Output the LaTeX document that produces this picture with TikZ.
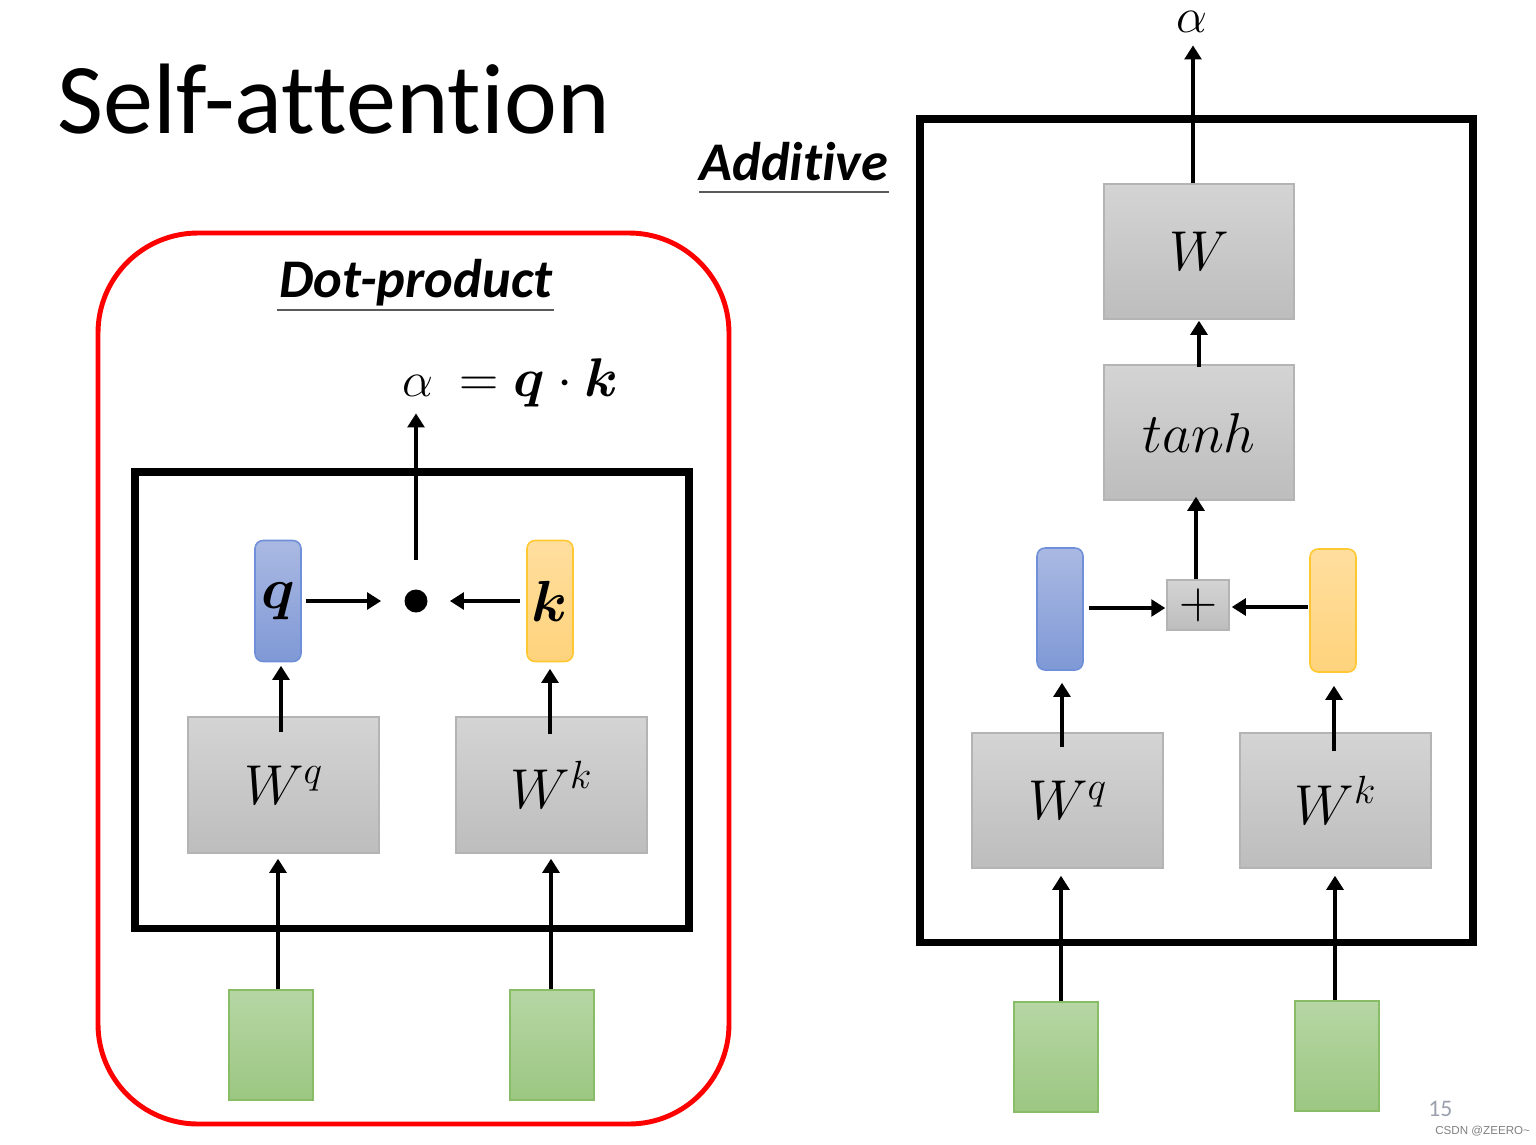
\documentclass[tikz,border=0pt]{standalone}
\usepackage{fix-cm}
\usepackage{amsmath}
\usepackage{fontspec}
\setmainfont{Carlito}[Ligatures=NoCommon]
\newfontfamily\smallsans{Liberation Sans}
\usetikzlibrary{arrows.meta,calc}
\definecolor{graytop}{HTML}{D4D4D4}
\definecolor{graybot}{HTML}{BDBDBD}
\definecolor{grayedge}{HTML}{B4B4B4}
\definecolor{qtop}{HTML}{AAB9E2}
\definecolor{qbot}{HTML}{7F99D6}
\definecolor{qedge}{HTML}{6F90D8}
\definecolor{ktop}{HTML}{FFDE9E}
\definecolor{kbot}{HTML}{FFD37C}
\definecolor{kedge}{HTML}{FFC833}
\definecolor{gtop}{HTML}{B6D6A4}
\definecolor{gbot}{HTML}{9CC782}
\definecolor{gedge}{HTML}{88BC66}
\definecolor{ulcol}{HTML}{5A5A5A}
\definecolor{pagenum}{HTML}{9AA0AC}
\begin{document}
\begin{tikzpicture}[x=0.02cm,y=-0.02cm,
  gbox/.style={draw=grayedge, line width=0.8pt, top color=graytop, bottom color=graybot,
    minimum width=3.82cm, minimum height=2.72cm, inner sep=0pt, font=\fontsize{32}{36}\selectfont},
  qvec/.style={draw=qedge, line width=0.9pt, rounded corners=0.16cm, top color=qtop, bottom color=qbot,
    minimum width=0.92cm, minimum height=2.42cm, inner sep=0pt, font=\fontsize{33}{38}\selectfont},
  kvec/.style={draw=kedge, line width=0.9pt, rounded corners=0.16cm, top color=ktop, bottom color=kbot,
    minimum width=0.92cm, minimum height=2.42cm, inner sep=0pt, font=\fontsize{33}{38}\selectfont},
  inp/.style={draw=gedge, line width=1pt, top color=gtop, bottom color=gbot,
    minimum width=1.68cm, minimum height=2.2cm, inner sep=0pt},
  arr/.style={line width=2.7pt, -{Triangle[width=9.5pt,length=8pt]}},
  frame/.style={line width=4pt},
  uline/.style={line width=1.6pt, draw=ulcol},
  heading/.style={inner sep=0pt, font=\fontsize{31}{36}\selectfont\bfseries\itshape}
]
\useasboundingbox (0,0) rectangle (1536,1144);

% title
\node[anchor=base west, inner sep=0pt, font=\fontsize{57}{62}\selectfont] (title) at (57,133) {Self-attention};

% ---------- left: dot-product ----------
\draw[red, line width=2.8pt, rounded corners=2cm] (98,233) rectangle (729,1124);
\node[heading, anchor=base] (dottitle) at (416,297) {Dot-product};
\draw[uline] (277,310) -- (554,310);

\node[anchor=base, inner sep=0pt, font=\fontsize{28}{32}\selectfont] (alphaL) at (418,396) {$\alpha$};
\node[anchor=base west, inner sep=0pt, font=\fontsize{31}{36}\selectfont] (eqL) at (459,396) {$=\boldsymbol{q}\cdot\boldsymbol{k}$};

\draw[frame] (135,472) rectangle (689,928);

\node[gbox] (Wq) at (283.5,785) {$W^q$};
\node[gbox] (Wk) at (551.5,785) {$W^k$};
\node[qvec] (q) at (278,601) {$\boldsymbol{q}$};
\node[kvec] (k) at (550,601) {$\boldsymbol{k}$};
\node[circle, fill=black, minimum size=0.46cm, inner sep=0pt] (dot) at (416,601) {};
\node[inp] (in1) at (271,1045) {};
\node[inp] (in2) at (552,1045) {};

\draw[arr] ($(in1.north)+(7,0)$) -- ($(Wq.south)+(-5.5,5)$);
\draw[arr] ($(in2.north)+(-1,0)$) -- ($(Wk.south)+(-0.5,5)$);
\draw[arr] ($(Wq.north)+(-2.5,16)$) -- ($(q.south)+(3,3.5)$);
\draw[arr] ($(Wk.north)+(-1.5,18)$) -- ($(k.south)+(0,6.5)$);
\draw[arr] ($(q.east)+(4,0)$) -- ($(dot.west)+(-23,0)$);
\draw[arr] ($(k.west)+(-6,0)$) -- ($(dot.east)+(22,0)$);
\draw[arr] ($(dot.north)+(0,-29)$) -- ($(alphaL.south)+(-2,17)$);

% ---------- right: additive ----------
\node[heading, anchor=base west] (addtitle) at (699,180) {Additive};
\draw[uline] (699,192) -- (889,192);

\node[anchor=base, inner sep=0pt, font=\fontsize{28}{32}\selectfont] (alphaR) at (1192,32) {$\alpha$};

\draw[frame] (920,119) rectangle (1473,942);

\node[gbox, minimum width=3.8cm, minimum height=2.7cm] (Wr) at (1199,251.5) {$W$};
\node[gbox, minimum width=3.8cm, minimum height=2.7cm] (tanh) at (1199,432.5) {$tanh$};
\node[gbox, minimum width=1.24cm, minimum height=1.0cm, font=\fontsize{30}{32}\selectfont] (plus) at (1198,605) {$+$};
\node[qvec, minimum height=2.44cm] (bvec) at (1060,609) {};
\node[kvec, minimum height=2.46cm] (ovec) at (1333,610.5) {};
\node[gbox, minimum height=2.7cm] (Wqr) at (1067.5,800.5) {$W^q$};
\node[gbox, minimum height=2.7cm] (Wkr) at (1335.5,800.5) {$W^k$};
\node[inp] (in3) at (1056,1057) {};
\node[inp] (in4) at (1337,1056) {};

\draw[arr] ($(Wr.north)+(-6,0)$) -- ($(alphaR.south)+(1,13)$);
\draw[arr] ($(tanh.north)+(0,3)$) -- ($(Wr.south)+(0,1)$);
\draw[arr] ($(plus.north)+(-2,0)$) -- ($(tanh.south)+(-3,-4)$);
\draw[arr] ($(bvec.east)+(5,-1)$) -- ($(plus.west)+(-1,3)$);
\draw[arr] ($(ovec.west)+(-1,-3.5)$) -- ($(plus.east)+(2,2)$);
\draw[arr] ($(Wqr.north)+(-5.5,15)$) -- ($(bvec.south)+(2,12)$);
\draw[arr] ($(Wkr.north)+(-1.5,19)$) -- ($(ovec.south)+(1,13)$);
\draw[arr] ($(in3.north)+(5,0)$) -- ($(Wqr.south)+(-6.5,7)$);
\draw[arr] ($(in4.north)+(-2,0)$) -- ($(Wkr.south)+(-0.5,7)$);

% page number and credit
\node[anchor=base west, inner sep=0pt, text=pagenum, font=\fontsize{13.5}{16}\selectfont] (pnum) at (1428,1116) {15};
\node[anchor=base west, inner sep=0pt, text=gray, font=\smallsans\fontsize{6.6}{8}\selectfont] (credit) at (1435,1134) {CSDN @ZEERO\textasciitilde};
\end{tikzpicture}
\end{document}
